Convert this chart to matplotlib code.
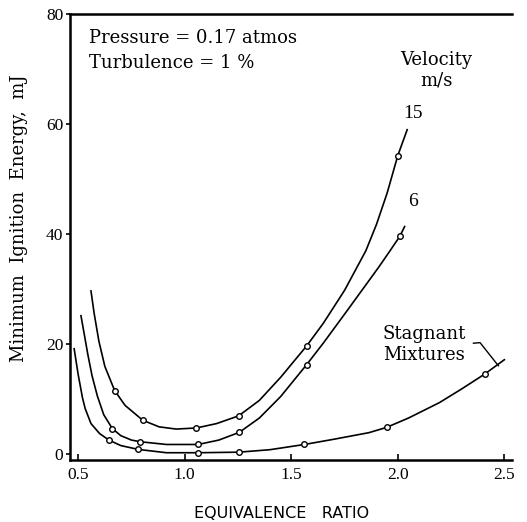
import matplotlib
matplotlib.use("Agg")
import matplotlib.pyplot as plt

# curves (equivalence ratio, energy in mJ)
v15_x = [0.560, 0.575, 0.597, 0.625, 0.671, 0.720, 0.803, 0.880, 0.960, 1.055, 1.150, 1.253,
         1.350, 1.450, 1.572, 1.650, 1.750, 1.850, 1.900, 1.950, 2.000, 2.044]
v15_y = [29.7, 25.6, 20.6, 16.0, 11.6, 8.9, 6.2, 5.0, 4.6, 4.8, 5.6, 7.0,
         9.8, 14.0, 19.7, 23.8, 29.8, 37.0, 41.8, 47.5, 54.3, 59.0]
v15_px = [0.671, 0.803, 1.055, 1.253, 1.572, 2.000]
v15_py = [11.6, 6.2, 4.8, 7.0, 19.7, 54.3]

v6_x = [0.513, 0.530, 0.545, 0.565, 0.590, 0.620, 0.660, 0.700, 0.750, 0.790, 0.914, 1.063,
        1.160, 1.256, 1.350, 1.450, 1.572, 1.650, 1.760, 1.850, 1.910, 1.960, 2.009, 2.032]
v6_y = [25.2, 21.5, 18.2, 14.3, 10.6, 7.2, 4.7, 3.4, 2.6, 2.3, 1.8, 1.8,
        2.6, 4.0, 6.6, 10.5, 16.3, 20.2, 26.0, 30.8, 34.0, 36.8, 39.6, 41.4]
v6_px = [0.660, 0.790, 1.063, 1.256, 1.572, 2.009]
v6_py = [4.7, 2.3, 1.8, 4.0, 16.3, 39.6]

st_x = [0.481, 0.500, 0.520, 0.533, 0.560, 0.600, 0.644, 0.700, 0.782, 0.914, 1.063, 1.253,
        1.400, 1.562, 1.700, 1.865, 1.947, 2.050, 2.195, 2.300, 2.408, 2.500]
st_y = [19.2, 14.5, 10.3, 8.3, 5.6, 3.8, 2.6, 1.6, 0.9, 0.3, 0.3, 0.4,
        0.85, 1.8, 2.75, 3.95, 4.9, 6.6, 9.4, 11.9, 14.6, 17.2]
st_px = [0.644, 0.782, 1.063, 1.253, 1.562, 1.947, 2.408]
st_py = [2.6, 0.9, 0.3, 0.4, 1.8, 4.9, 14.6]

xticks = [0.5, 1.0, 1.5, 2.0, 2.5]
xticklabels = ["0.5", "1.0", "1.5", "2.0", "2.5"]
yticks = [0, 20, 40, 60, 80]

tickfont = "Liberation Serif"
textfont = "DejaVu Serif"

fig = plt.figure(figsize=(5.27, 5.22), dpi=100)
ax = fig.add_axes([0.133, 0.119, 0.839, 0.854])

for cx, cy, mx, my in [(v15_x, v15_y, v15_px, v15_py),
                       (v6_x, v6_y, v6_px, v6_py),
                       (st_x, st_y, st_px, st_py)]:
    ax.plot(cx, cy, color="black", lw=1.2)
    ax.plot(mx, my, "o", ms=4, mfc="white", mec="black", mew=1.0)

ax.set_xlim(0.462, 2.537)
ax.set_ylim(-1, 80)
ax.set_xticks(xticks)
ax.set_xticklabels(xticklabels)
ax.set_yticks(yticks)
ax.tick_params(axis="x", direction="in", length=4, width=1.2, pad=5, labelsize=12.5)
ax.tick_params(axis="y", direction="out", length=3, width=1.2, pad=2, labelsize=12.5)
for lab in ax.get_xticklabels() + ax.get_yticklabels():
    lab.set_family(tickfont)

ax.spines["right"].set_visible(False)
for s in ["left", "bottom", "top"]:
    ax.spines[s].set_linewidth(1.8)

ax.set_ylabel("Minimum  Ignition  Energy,  mJ", family=textfont, fontsize=13)
ax.yaxis.set_label_coords(-0.095, 0.543)
ax.set_xlabel("EQUIVALENCE   RATIO", family="DejaVu Sans", fontsize=11.5)
ax.xaxis.set_label_coords(0.478, -0.103)

ax.text(0.55, 75.7, "Pressure = 0.17 atmos", family=textfont, fontsize=13, va="center")
ax.text(0.55, 71.2, "Turbulence = 1 %", family=textfont, fontsize=13, va="center")
ax.text(2.18, 69.8, "Velocity\nm/s", family=textfont, fontsize=13, ha="center", va="center", linespacing=1.15)
ax.text(2.072, 62.0, "15", family=tickfont, fontsize=14, ha="center", va="center")
ax.text(2.072, 46.0, "6", family=tickfont, fontsize=14, ha="center", va="center")
ax.text(1.93, 19.9, "Stagnant\nMixtures", family=textfont, fontsize=13, ha="left", va="center", linespacing=1.2)
ax.plot([2.355, 2.386, 2.472], [20.2, 20.3, 16.1], color="black", lw=1.0)

fig.savefig("out.png", dpi=100)
